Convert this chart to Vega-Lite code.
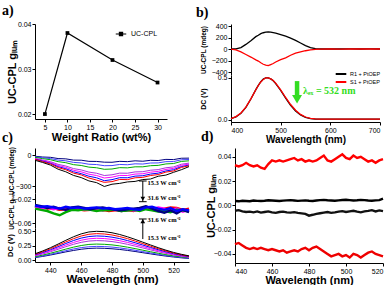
{
"$schema":"https://vega.github.io/schema/vega-lite/v6.json",
"padding":{"left":2,"top":4,"right":0,"bottom":0},
"config":{
 "view":{"stroke":null},
 "axis":{"grid":false,"domainColor":"#000","tickColor":"#000","labelColor":"#000","titleColor":"#000","labelFont":"Liberation Sans","titleFont":"Liberation Sans","labelFontSize":7,"titleFontWeight":"bold","tickSize":3,"labelPadding":1,"titlePadding":2},
 "legend":{"labelFont":"Liberation Sans","labelColor":"#000"},
 "title":{"font":"Liberation Serif","fontSize":14,"fontWeight":"bold","anchor":"start","frame":"group","color":"#000"}
},
"datasets":{
 "a":[{"w":5,"g":0.020,"s":"UC-CPL"},{"w":10,"g":0.038,"s":"UC-CPL"},{"w":20,"g":0.032,"s":"UC-CPL"},{"w":30,"g":0.027,"s":"UC-CPL"}],
 "b":[
  {"x":400,"s":"R1 + PtOEP","cpl":0,"dc":0.015},{"x":410,"s":"R1 + PtOEP","cpl":3,"dc":0.036},{"x":420,"s":"R1 + PtOEP","cpl":25,"dc":0.078},{"x":430,"s":"R1 + PtOEP","cpl":80,"dc":0.149},{"x":440,"s":"R1 + PtOEP","cpl":145,"dc":0.248},{"x":450,"s":"R1 + PtOEP","cpl":215,"dc":0.359},{"x":455,"s":"R1 + PtOEP","cpl":240,"dc":0.41},{"x":460,"s":"R1 + PtOEP","cpl":268,"dc":0.453},{"x":465,"s":"R1 + PtOEP","cpl":283,"dc":0.483},{"x":470,"s":"R1 + PtOEP","cpl":292,"dc":0.499},{"x":475,"s":"R1 + PtOEP","cpl":298,"dc":0.498},{"x":480,"s":"R1 + PtOEP","cpl":295,"dc":0.486},{"x":485,"s":"R1 + PtOEP","cpl":285,"dc":0.463},{"x":490,"s":"R1 + PtOEP","cpl":275,"dc":0.431},{"x":500,"s":"R1 + PtOEP","cpl":250,"dc":0.349},{"x":510,"s":"R1 + PtOEP","cpl":225,"dc":0.258},{"x":520,"s":"R1 + PtOEP","cpl":190,"dc":0.174},{"x":530,"s":"R1 + PtOEP","cpl":150,"dc":0.107},{"x":540,"s":"R1 + PtOEP","cpl":105,"dc":0.06},{"x":550,"s":"R1 + PtOEP","cpl":60,"dc":0.031},{"x":560,"s":"R1 + PtOEP","cpl":25,"dc":0.016},{"x":570,"s":"R1 + PtOEP","cpl":5,"dc":0.011},{"x":580,"s":"R1 + PtOEP","cpl":0,"dc":0.01},{"x":600,"s":"R1 + PtOEP","cpl":2,"dc":0.01},{"x":620,"s":"R1 + PtOEP","cpl":0,"dc":0.01},{"x":640,"s":"R1 + PtOEP","cpl":1,"dc":0.01},{"x":660,"s":"R1 + PtOEP","cpl":0,"dc":0.01},{"x":680,"s":"R1 + PtOEP","cpl":1,"dc":0.01},{"x":700,"s":"R1 + PtOEP","cpl":0,"dc":0.01},
  {"x":400,"s":"S1 + PtOEP","cpl":-2,"dc":0.017},{"x":410,"s":"S1 + PtOEP","cpl":-15,"dc":0.04},{"x":420,"s":"S1 + PtOEP","cpl":-50,"dc":0.083},{"x":430,"s":"S1 + PtOEP","cpl":-95,"dc":0.152},{"x":440,"s":"S1 + PtOEP","cpl":-140,"dc":0.25},{"x":450,"s":"S1 + PtOEP","cpl":-190,"dc":0.357},{"x":455,"s":"S1 + PtOEP","cpl":-210,"dc":0.408},{"x":460,"s":"S1 + PtOEP","cpl":-240,"dc":0.45},{"x":465,"s":"S1 + PtOEP","cpl":-265,"dc":0.48},{"x":470,"s":"S1 + PtOEP","cpl":-280,"dc":0.497},{"x":475,"s":"S1 + PtOEP","cpl":-290,"dc":0.497},{"x":480,"s":"S1 + PtOEP","cpl":-270,"dc":0.487},{"x":485,"s":"S1 + PtOEP","cpl":-252,"dc":0.466},{"x":490,"s":"S1 + PtOEP","cpl":-225,"dc":0.436},{"x":500,"s":"S1 + PtOEP","cpl":-185,"dc":0.356},{"x":510,"s":"S1 + PtOEP","cpl":-155,"dc":0.266},{"x":520,"s":"S1 + PtOEP","cpl":-108,"dc":0.183},{"x":530,"s":"S1 + PtOEP","cpl":-70,"dc":0.115},{"x":540,"s":"S1 + PtOEP","cpl":-48,"dc":0.066},{"x":550,"s":"S1 + PtOEP","cpl":-30,"dc":0.035},{"x":560,"s":"S1 + PtOEP","cpl":-15,"dc":0.019},{"x":570,"s":"S1 + PtOEP","cpl":-6,"dc":0.012},{"x":580,"s":"S1 + PtOEP","cpl":-2,"dc":0.01},{"x":600,"s":"S1 + PtOEP","cpl":0,"dc":0.01},{"x":620,"s":"S1 + PtOEP","cpl":-1,"dc":0.01},{"x":640,"s":"S1 + PtOEP","cpl":0,"dc":0.01},{"x":660,"s":"S1 + PtOEP","cpl":0,"dc":0.01},{"x":680,"s":"S1 + PtOEP","cpl":0,"dc":0.01},{"x":700,"s":"S1 + PtOEP","cpl":0,"dc":0.01}
 ],
 "cpl":[
  {"x":430,"k":-49,"r":-40,"b":-38,"m":-34,"p":-30,"g":-20,"b2":-15,"n":-10},
  {"x":435,"k":-70,"r":-62,"b":-57,"m":-52,"p":-46,"g":-33,"b2":-25,"n":-17},
  {"x":440,"k":-95,"r":-84,"b":-78,"m":-70,"p":-62,"g":-43,"b2":-32,"n":-20},
  {"x":445,"k":-135,"r":-119,"b":-110,"m":-99,"p":-88,"g":-62,"b2":-47,"n":-32},
  {"x":450,"k":-160,"r":-140,"b":-130,"m":-117,"p":-104,"g":-72,"b2":-54,"n":-35},
  {"x":455,"k":-195,"r":-173,"b":-160,"m":-145,"p":-129,"g":-91,"b2":-69,"n":-47},
  {"x":460,"k":-216,"r":-190,"b":-178,"m":-160,"p":-142,"g":-99,"b2":-74,"n":-48},
  {"x":465,"k":-248,"r":-220,"b":-203,"m":-183,"p":-163,"g":-115,"b2":-87,"n":-59},
  {"x":470,"k":-265,"r":-240,"b":-218,"m":-196,"p":-174,"g":-121,"b2":-90,"n":-60},
  {"x":475,"k":-302,"r":-262,"b":-246,"m":-220,"p":-196,"g":-136,"b2":-101,"n":-67},
  {"x":480,"k":-280,"r":-255,"b":-236,"m":-212,"p":-189,"g":-133,"b2":-100,"n":-68},
  {"x":485,"k":-272,"r":-234,"b":-217,"m":-195,"p":-173,"g":-120,"b2":-89,"n":-59},
  {"x":490,"k":-258,"r":-236,"b":-218,"m":-196,"p":-174,"g":-122,"b2":-92,"n":-62},
  {"x":495,"k":-253,"r":-218,"b":-202,"m":-182,"p":-161,"g":-112,"b2":-83,"n":-54},
  {"x":500,"k":-235,"r":-214,"b":-198,"m":-179,"p":-159,"g":-112,"b2":-85,"n":-58},
  {"x":505,"k":-230,"r":-196,"b":-182,"m":-164,"p":-145,"g":-101,"b2":-75,"n":-49},
  {"x":510,"k":-203,"r":-187,"b":-173,"m":-156,"p":-139,"g":-98,"b2":-74,"n":-51},
  {"x":515,"k":-192,"r":-163,"b":-152,"m":-137,"p":-121,"g":-84,"b2":-62,"n":-40},
  {"x":520,"k":-165,"r":-152,"b":-140,"m":-127,"p":-113,"g":-80,"b2":-61,"n":-42},
  {"x":525,"k":-140,"r":-118,"b":-110,"m":-98,"p":-87,"g":-60,"b2":-44,"n":-29},
  {"x":530,"k":-110,"r":-102,"b":-95,"m":-85,"p":-76,"g":-54,"b2":-41,"n":-28}
 ],
 "glum":[
  {"x":430,"k":-0.033,"r":-0.034,"b":-0.031,"m":-0.035,"g":-0.036,"n":-0.030},
  {"x":434,"k":-0.035,"r":-0.033,"b":-0.033,"m":-0.036,"g":-0.038,"n":-0.032},
  {"x":438,"k":-0.034,"r":-0.036,"b":-0.032,"m":-0.034,"g":-0.040,"n":-0.035},
  {"x":442,"k":-0.036,"r":-0.035,"b":-0.034,"m":-0.037,"g":-0.044,"n":-0.033},
  {"x":446,"k":-0.037,"r":-0.038,"b":-0.036,"m":-0.035,"g":-0.047,"n":-0.036},
  {"x":450,"k":-0.035,"r":-0.037,"b":-0.033,"m":-0.038,"g":-0.042,"n":-0.038},
  {"x":454,"k":-0.036,"r":-0.035,"b":-0.035,"m":-0.036,"g":-0.038,"n":-0.034},
  {"x":458,"k":-0.038,"r":-0.037,"b":-0.034,"m":-0.035,"g":-0.039,"n":-0.033},
  {"x":462,"k":-0.037,"r":-0.039,"b":-0.036,"m":-0.038,"g":-0.037,"n":-0.035},
  {"x":466,"k":-0.036,"r":-0.038,"b":-0.035,"m":-0.037,"g":-0.038,"n":-0.037},
  {"x":470,"k":-0.038,"r":-0.036,"b":-0.034,"m":-0.039,"g":-0.040,"n":-0.035},
  {"x":474,"k":-0.039,"r":-0.038,"b":-0.036,"m":-0.036,"g":-0.038,"n":-0.034},
  {"x":478,"k":-0.037,"r":-0.040,"b":-0.035,"m":-0.038,"g":-0.039,"n":-0.036},
  {"x":482,"k":-0.038,"r":-0.039,"b":-0.037,"m":-0.037,"g":-0.037,"n":-0.038},
  {"x":486,"k":-0.040,"r":-0.037,"b":-0.036,"m":-0.038,"g":-0.040,"n":-0.039},
  {"x":490,"k":-0.039,"r":-0.038,"b":-0.035,"m":-0.036,"g":-0.039,"n":-0.037},
  {"x":494,"k":-0.038,"r":-0.040,"b":-0.037,"m":-0.039,"g":-0.038,"n":-0.036},
  {"x":498,"k":-0.037,"r":-0.036,"b":-0.038,"m":-0.038,"g":-0.040,"n":-0.035},
  {"x":502,"k":-0.036,"r":-0.033,"b":-0.034,"m":-0.035,"g":-0.037,"n":-0.032},
  {"x":506,"k":-0.038,"r":-0.035,"b":-0.033,"m":-0.037,"g":-0.039,"n":-0.036},
  {"x":510,"k":-0.039,"r":-0.037,"b":-0.036,"m":-0.034,"g":-0.041,"n":-0.040},
  {"x":514,"k":-0.038,"r":-0.036,"b":-0.038,"m":-0.036,"g":-0.040,"n":-0.043},
  {"x":518,"k":-0.037,"r":-0.034,"b":-0.035,"m":-0.038,"g":-0.042,"n":-0.039},
  {"x":522,"k":-0.039,"r":-0.035,"b":-0.040,"m":-0.036,"g":-0.038,"n":-0.044},
  {"x":526,"k":-0.038,"r":-0.038,"b":-0.037,"m":-0.041,"g":-0.039,"n":-0.038},
  {"x":530,"k":-0.040,"r":-0.036,"b":-0.039,"m":-0.038,"g":-0.041,"n":-0.042}
 ],
 "dc":[
  {"x":430,"k":0.113,"r":0.104,"b":0.095,"m":0.086,"p":0.077,"g":0.063,"b2":0.054,"n":0.047},
  {"x":435,"k":0.161,"r":0.148,"b":0.135,"m":0.122,"p":0.109,"g":0.090,"b2":0.077,"n":0.067},
  {"x":440,"k":0.217,"r":0.200,"b":0.182,"m":0.165,"p":0.148,"g":0.122,"b2":0.104,"n":0.091},
  {"x":445,"k":0.280,"r":0.258,"b":0.235,"m":0.213,"p":0.190,"g":0.157,"b2":0.134,"n":0.118},
  {"x":450,"k":0.345,"r":0.317,"b":0.290,"m":0.262,"p":0.235,"g":0.193,"b2":0.166,"n":0.145},
  {"x":455,"k":0.406,"r":0.373,"b":0.341,"m":0.308,"p":0.276,"g":0.227,"b2":0.195,"n":0.170},
  {"x":460,"k":0.456,"r":0.419,"b":0.383,"m":0.346,"p":0.310,"g":0.255,"b2":0.219,"n":0.191},
  {"x":465,"k":0.489,"r":0.449,"b":0.410,"m":0.371,"p":0.332,"g":0.274,"b2":0.234,"n":0.205},
  {"x":470,"k":0.500,"r":0.460,"b":0.420,"m":0.380,"p":0.340,"g":0.280,"b2":0.240,"n":0.210},
  {"x":475,"k":0.494,"r":0.454,"b":0.415,"m":0.375,"p":0.336,"g":0.276,"b2":0.237,"n":0.207},
  {"x":480,"k":0.475,"r":0.437,"b":0.399,"m":0.361,"p":0.323,"g":0.266,"b2":0.228,"n":0.199},
  {"x":485,"k":0.445,"r":0.409,"b":0.374,"m":0.338,"p":0.303,"g":0.249,"b2":0.214,"n":0.187},
  {"x":490,"k":0.406,"r":0.374,"b":0.341,"m":0.309,"p":0.276,"g":0.227,"b2":0.195,"n":0.171},
  {"x":495,"k":0.361,"r":0.332,"b":0.303,"m":0.274,"p":0.245,"g":0.202,"b2":0.173,"n":0.152},
  {"x":500,"k":0.313,"r":0.288,"b":0.263,"m":0.238,"p":0.213,"g":0.175,"b2":0.150,"n":0.131},
  {"x":505,"k":0.265,"r":0.243,"b":0.222,"m":0.201,"p":0.180,"g":0.148,"b2":0.127,"n":0.111},
  {"x":510,"k":0.218,"r":0.200,"b":0.183,"m":0.165,"p":0.148,"g":0.122,"b2":0.104,"n":0.091},
  {"x":515,"k":0.175,"r":0.161,"b":0.147,"m":0.133,"p":0.119,"g":0.098,"b2":0.084,"n":0.073},
  {"x":520,"k":0.136,"r":0.125,"b":0.114,"m":0.103,"p":0.092,"g":0.076,"b2":0.065,"n":0.057},
  {"x":525,"k":0.104,"r":0.095,"b":0.087,"m":0.079,"p":0.070,"g":0.058,"b2":0.050,"n":0.043},
  {"x":530,"k":0.077,"r":0.071,"b":0.065,"m":0.059,"p":0.052,"g":0.043,"b2":0.037,"n":0.032}
 ],
 "d":[
  {"x":440,"r1":0.033,"k1":0.0035,"k2":-0.0045,"r2":-0.032},
  {"x":442,"r1":0.032,"k1":0.0033,"k2":-0.0040,"r2":-0.031},
  {"x":444,"r1":0.033,"k1":0.0038,"k2":-0.0050,"r2":-0.033},
  {"x":446,"r1":0.035,"k1":0.0036,"k2":-0.0055,"r2":-0.035},
  {"x":448,"r1":0.033,"k1":0.0034,"k2":-0.0052,"r2":-0.036},
  {"x":450,"r1":0.032,"k1":0.0040,"k2":-0.0058,"r2":-0.035},
  {"x":452,"r1":0.033,"k1":0.0037,"k2":-0.0050,"r2":-0.036},
  {"x":454,"r1":0.031,"k1":0.0035,"k2":-0.0060,"r2":-0.035},
  {"x":456,"r1":0.030,"k1":0.0038,"k2":-0.0055,"r2":-0.036},
  {"x":458,"r1":0.034,"k1":0.0042,"k2":-0.0050,"r2":-0.037},
  {"x":460,"r1":0.037,"k1":0.0040,"k2":-0.0058,"r2":-0.036},
  {"x":462,"r1":0.036,"k1":0.0038,"k2":-0.0062,"r2":-0.037},
  {"x":464,"r1":0.037,"k1":0.0036,"k2":-0.0055,"r2":-0.038},
  {"x":466,"r1":0.036,"k1":0.0039,"k2":-0.0052,"r2":-0.037},
  {"x":468,"r1":0.037,"k1":0.0041,"k2":-0.0058,"r2":-0.039},
  {"x":470,"r1":0.038,"k1":0.0043,"k2":-0.0060,"r2":-0.038},
  {"x":472,"r1":0.039,"k1":0.0040,"k2":-0.0056,"r2":-0.037},
  {"x":474,"r1":0.037,"k1":0.0037,"k2":-0.0062,"r2":-0.038},
  {"x":476,"r1":0.038,"k1":0.0039,"k2":-0.0066,"r2":-0.036},
  {"x":478,"r1":0.036,"k1":0.0041,"k2":-0.0070,"r2":-0.035},
  {"x":480,"r1":0.037,"k1":0.0038,"k2":-0.0085,"r2":-0.037},
  {"x":482,"r1":0.036,"k1":0.0036,"k2":-0.0078,"r2":-0.035},
  {"x":484,"r1":0.037,"k1":0.0040,"k2":-0.0070,"r2":-0.034},
  {"x":486,"r1":0.039,"k1":0.0043,"k2":-0.0065,"r2":-0.036},
  {"x":488,"r1":0.041,"k1":0.0045,"k2":-0.0060,"r2":-0.038},
  {"x":490,"r1":0.037,"k1":0.0042,"k2":-0.0055,"r2":-0.040},
  {"x":492,"r1":0.036,"k1":0.0040,"k2":-0.0062,"r2":-0.042},
  {"x":494,"r1":0.038,"k1":0.0038,"k2":-0.0058,"r2":-0.041},
  {"x":496,"r1":0.040,"k1":0.0041,"k2":-0.0052,"r2":-0.040},
  {"x":498,"r1":0.042,"k1":0.0044,"k2":-0.0048,"r2":-0.042},
  {"x":500,"r1":0.039,"k1":0.0046,"k2":-0.0055,"r2":-0.041},
  {"x":502,"r1":0.038,"k1":0.0043,"k2":-0.0050,"r2":-0.043},
  {"x":504,"r1":0.041,"k1":0.0040,"k2":-0.0045,"r2":-0.040},
  {"x":506,"r1":0.039,"k1":0.0042,"k2":-0.0052,"r2":-0.041},
  {"x":508,"r1":0.040,"k1":0.0045,"k2":-0.0058,"r2":-0.043},
  {"x":510,"r1":0.038,"k1":0.0043,"k2":-0.0050,"r2":-0.041},
  {"x":512,"r1":0.036,"k1":0.0040,"k2":-0.0046,"r2":-0.039},
  {"x":514,"r1":0.037,"k1":0.0038,"k2":-0.0040,"r2":-0.038},
  {"x":516,"r1":0.035,"k1":0.0041,"k2":-0.0050,"r2":-0.040},
  {"x":518,"r1":0.037,"k1":0.0043,"k2":-0.0042,"r2":-0.041},
  {"x":520,"r1":0.038,"k1":0.0055,"k2":-0.0048,"r2":-0.042}
 ]
},
"resolve":{"scale":{"color":"independent"},"legend":{"color":"independent"}},
"spacing":-14,
"vconcat":[
 {"hconcat":[
  {"width":132,"height":95,
   "title":{"text":"a)","dx":-33,"offset":2},
   "data":{"name":"a"},
   "encoding":{
    "x":{"field":"w","type":"quantitative","scale":{"domain":[2.8,32.1],"nice":false,"zero":false},"axis":{"values":[5,10,15,20,25,30],"title":"Weight Ratio (wt%)","titleFontSize":11,"titlePadding":1}},
    "y":{"field":"g","type":"quantitative","scale":{"domain":[0.0189,0.04],"nice":false,"zero":false},"axis":{"values":[0.02,0.03,0.04],"format":".2f","title":"UC-CPL gₗᵤₘ","titleFontSize":11,"titleX":-18}},
    "color":{"field":"s","type":"nominal","scale":{"domain":["UC-CPL"],"range":["#000"]},"legend":{"orient":"none","legendX":80,"legendY":4,"title":null,"symbolType":"M-1,0L1,0M-0.3,-0.3L0.3,-0.3L0.3,0.3L-0.3,0.3Z","symbolSize":110,"symbolStrokeWidth":1.2,"symbolFillColor":"#000","symbolStrokeColor":"#000","labelFontSize":7}}
   },
   "layer":[{"mark":{"type":"line","strokeWidth":1.2}},{"mark":{"type":"square","size":14,"opacity":1}}]
  },
  {"vconcat":[
    {"width":149,"height":51,
     "title":{"text":"b)","dx":-35,"offset":2},
     "data":{"name":"b"},
     "mark":{"type":"line","strokeWidth":1.3},
     "encoding":{
      "x":{"field":"x","type":"quantitative","scale":{"domain":[400,700],"nice":false},"axis":null},
      "y":{"field":"cpl","type":"quantitative","scale":{"domain":[-452,435],"nice":false},"axis":{"values":[-400,-200,0,200,400],"title":"UC-CPL (mdeg)","titleFontSize":6.5,"titleX":-25}},
      "color":{"field":"s","type":"nominal","scale":{"domain":["R1 + PtOEP","S1 + PtOEP"],"range":["#000","#ff0000"]},"legend":null}
     }
    },
    {"width":149,"height":47,
     "layer":[
      {"data":{"name":"b"},"mark":{"type":"line","strokeWidth":1.3},
       "encoding":{
        "x":{"field":"x","type":"quantitative","scale":{"domain":[400,700],"nice":false},"axis":{"values":[400,450,500,550,600,650,700],"title":"Wavelength (nm)","titleFontSize":10,"titlePadding":1}},
        "y":{"field":"dc","type":"quantitative","scale":{"domain":[-0.024,0.532],"nice":false,"zero":false},"axis":{"values":[0,0.1,0.2,0.3,0.4,0.5],"format":".1f","title":"DC (V)","titleFontSize":7,"titleX":-25}},
        "color":{"field":"s","type":"nominal","scale":{"domain":["R1 + PtOEP","S1 + PtOEP"],"range":["#000","#ff0000"]},"legend":{"orient":"none","legendX":103,"legendY":-5,"title":null,"symbolType":"M-2,0L2,0","symbolSize":28,"symbolStrokeWidth":2,"symbolOffset":3,"labelOffset":5,"labelFontSize":5.5,"rowPadding":0}}
       }},
      {"data":{"values":[{"x":533,"dc":0.46,"dc2":0.29}]},"mark":{"type":"rule","color":"#33dd22","strokeWidth":4.5},
       "encoding":{"x":{"field":"x","type":"quantitative"},"y":{"field":"dc","type":"quantitative"},"y2":{"field":"dc2"}}},
      {"data":{"values":[{"x":533,"dc":0.245}]},"mark":{"type":"point","shape":"triangle-down","filled":true,"color":"#33dd22","size":100,"opacity":1},
       "encoding":{"x":{"field":"x","type":"quantitative"},"y":{"field":"dc","type":"quantitative"}}},
      {"data":{"values":[{"x":545,"dc":0.34,"t":"λₑₓ = 532 nm"}]},"mark":{"type":"text","align":"left","baseline":"middle","font":"Liberation Serif","fontWeight":"bold","fontSize":10,"color":"#33dd22"},
       "encoding":{"x":{"field":"x","type":"quantitative"},"y":{"field":"dc","type":"quantitative"},"text":{"field":"t"}}}
     ]
    }
   ],
   "spacing":0,"bounds":"flush",
   "resolve":{"scale":{"color":"independent"},"legend":{"color":"independent"}}
  }
 ],
 "spacing":29,
 "resolve":{"scale":{"color":"independent"},"legend":{"color":"independent"}}
 },
 {"hconcat":[
  {"vconcat":[
    {"width":154,"height":45,
     "title":{"text":"c)","dx":-33,"offset":1},
     "layer":[
      {"data":{"name":"cpl"},"transform":[{"fold":["n","b2","g","p","m","b","r","k"],"as":["s","val"]}],
       "mark":{"type":"line","strokeWidth":1},
       "encoding":{
        "x":{"field":"x","type":"quantitative","scale":{"domain":[430,530],"nice":false},"axis":null},
        "y":{"field":"val","type":"quantitative","scale":{"domain":[-365,70],"nice":false,"zero":false},"axis":{"values":[0,-150,-300],"title":"UC-CPL (mdeg)","titleFontSize":6.5,"titleX":-21}},
        "color":{"field":"s","type":"nominal","scale":{"domain":["n","b2","g","p","m","b","r","k"],"range":["#000080","#4444ff","#00aa00","#aa33dd","#ff00ff","#0000ff","#ff0000","#000000"]},"legend":null}
       }},
      {"data":{"values":[{"x":500,"val":-249,"val2":-449}]},"mark":{"type":"rule","color":"#000","strokeWidth":1},
       "encoding":{"x":{"field":"x","type":"quantitative"},"y":{"field":"val","type":"quantitative"},"y2":{"field":"val2"}}},
      {"data":{"values":[{"x":497.5,"x2":502.5,"val":-249},{"x":497.5,"x2":502.5,"val":-449}]},"mark":{"type":"rule","color":"#000","strokeWidth":1},
       "encoding":{"x":{"field":"x","type":"quantitative"},"x2":{"field":"x2"},"y":{"field":"val","type":"quantitative"}}},
      {"data":{"values":[{"x":500,"val":-420}]},"mark":{"type":"point","shape":"triangle-down","filled":true,"color":"#000","size":22,"opacity":1},
       "encoding":{"x":{"field":"x","type":"quantitative"},"y":{"field":"val","type":"quantitative"}}},
      {"data":{"values":[{"x":503,"val":-271,"t":"15.3 W cm⁻²"}]},"mark":{"type":"text","align":"left","baseline":"middle","font":"Liberation Serif","fontWeight":"bold","fontSize":6.5,"color":"#000"},
       "encoding":{"x":{"field":"x","type":"quantitative"},"y":{"field":"val","type":"quantitative"},"text":{"field":"t"}}}
     ]
    },
    {"width":154,"height":35,
     "layer":[
      {"data":{"name":"glum"},"transform":[{"fold":["k","r","m","g","n","b"],"as":["s","val"]}],
       "mark":{"type":"line","strokeWidth":2.4},
       "encoding":{
        "x":{"field":"x","type":"quantitative","scale":{"domain":[430,530],"nice":false},"axis":null},
        "y":{"field":"val","type":"quantitative","scale":{"domain":[-0.0683,-0.01],"nice":false,"zero":false},"axis":{"values":[-0.02,-0.04,-0.06],"format":".2f","title":"UC-CPL gₗᵤₘ","titleFontSize":6.5,"titleX":-21}},
        "color":{"field":"s","type":"nominal","scale":{"domain":["n","b2","g","p","m","b","r","k"],"range":["#000080","#4444ff","#00aa00","#aa33dd","#ff00ff","#0000ff","#ff0000","#000000"]},"legend":null}
       }},
      {"data":{"values":[{"x":500,"val":-0.0533,"val2":-0.0867}]},"mark":{"type":"rule","color":"#000","strokeWidth":1},
       "encoding":{"x":{"field":"x","type":"quantitative"},"y":{"field":"val","type":"quantitative"},"y2":{"field":"val2"}}},
      {"data":{"values":[{"x":497.5,"x2":502.5,"val":-0.0533}]},"mark":{"type":"rule","color":"#000","strokeWidth":1},
       "encoding":{"x":{"field":"x","type":"quantitative"},"x2":{"field":"x2"},"y":{"field":"val","type":"quantitative"}}},
      {"data":{"values":[{"x":500,"val":-0.0568}]},"mark":{"type":"point","shape":"triangle-up","filled":true,"color":"#000","size":22,"opacity":1},
       "encoding":{"x":{"field":"x","type":"quantitative"},"y":{"field":"val","type":"quantitative"}}},
      {"data":{"values":[{"x":503,"val":-0.0183,"t":"31.6 W cm⁻²"},{"x":503,"val":-0.0545,"t":"31.6 W cm⁻²"},{"x":503,"val":-0.085,"t":"15.3 W cm⁻²"}]},"mark":{"type":"text","align":"left","baseline":"middle","font":"Liberation Serif","fontWeight":"bold","fontSize":6.5,"color":"#000"},
       "encoding":{"x":{"field":"x","type":"quantitative"},"y":{"field":"val","type":"quantitative"},"text":{"field":"t"}}}
     ]
    },
    {"width":154,"height":34,
     "data":{"name":"dc"},"transform":[{"fold":["n","b2","g","p","m","b","r","k"],"as":["s","val"]}],
     "mark":{"type":"line","strokeWidth":1},
     "encoding":{
      "x":{"field":"x","type":"quantitative","scale":{"domain":[430,530],"nice":false},"axis":{"values":[440,460,480,500,520],"title":"Wavelength (nm)","titleFontSize":11.5,"titlePadding":0}},
      "y":{"field":"val","type":"quantitative","scale":{"domain":[-0.029,0.557],"nice":false,"zero":false},"axis":{"values":[0,0.25,0.5],"format":".2f","title":"DC (V)","titleFontSize":7.5,"titleX":-21}},
      "color":{"field":"s","type":"nominal","scale":{"domain":["n","b2","g","p","m","b","r","k"],"range":["#000080","#4444ff","#00aa00","#aa33dd","#ff00ff","#0000ff","#ff0000","#000000"]},"legend":null}
     }
    }
   ],
   "spacing":0,"bounds":"flush",
   "resolve":{"scale":{"color":"independent"},"legend":{"color":"independent"}}
  },
  {"width":148,"height":115,
   "title":{"text":"d)","dx":-34,"offset":4},
   "data":{"name":"d"},"transform":[{"fold":["r1","k1","k2","r2"],"as":["s","val"]}],
   "mark":{"type":"line","strokeWidth":2.4},
   "encoding":{
    "x":{"field":"x","type":"quantitative","scale":{"domain":[440,520],"nice":false},"axis":{"values":[440,460,480,500,520],"title":"Wavelength (nm)","titleFontSize":11,"titlePadding":0}},
    "y":{"field":"val","type":"quantitative","scale":{"domain":[-0.0475,0.0472],"nice":false,"zero":false},"axis":{"values":[-0.04,-0.02,0,0.02,0.04],"format":".2f","title":"UC-CPL gₗᵤₘ","titleFontSize":11,"titleX":-19}},
    "color":{"field":"s","type":"nominal","scale":{"domain":["r1","k1","k2","r2"],"range":["#ff0000","#000000","#111111","#ee0000"]},"legend":null}
   }
  }
 ],
 "spacing":7,
 "resolve":{"scale":{"color":"independent"},"legend":{"color":"independent"}}
 }
]
}
